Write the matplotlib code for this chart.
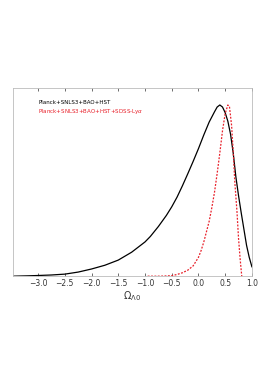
import matplotlib
matplotlib.use("Agg")
import matplotlib.pyplot as plt
import numpy as np

# posterior for Omega_Lambda0
om_black = [-3.47, -3.2, -3.0, -2.75, -2.5, -2.25, -2.0, -1.75, -1.5, -1.25,
            -1.0, -0.9, -0.75, -0.6, -0.5, -0.4, -0.3, -0.2, -0.1, 0.0,
            0.1, 0.2, 0.3, 0.35, 0.4, 0.45, 0.5, 0.55, 0.6, 0.65,
            0.7, 0.75, 0.8, 0.85, 0.9, 0.95, 1.0]
p_black = [0.0, 0.002, 0.004, 0.007, 0.012, 0.024, 0.042, 0.064, 0.094, 0.14,
           0.2, 0.232, 0.29, 0.355, 0.405, 0.462, 0.528, 0.598, 0.67, 0.745,
           0.825, 0.9, 0.96, 0.988, 1.0, 0.988, 0.955, 0.905, 0.83, 0.72,
           0.58, 0.47, 0.37, 0.275, 0.18, 0.11, 0.055]

om_red = [-0.95, -0.7, -0.5, -0.4, -0.3, -0.2, -0.1, 0.0, 0.05, 0.1,
          0.15, 0.2, 0.25, 0.3, 0.35, 0.4, 0.45, 0.5, 0.55, 0.58,
          0.62, 0.65, 0.68, 0.72, 0.75, 0.78, 0.81]
p_red = [0.0, 0.0, 0.003, 0.01, 0.02, 0.035, 0.06, 0.11, 0.15, 0.2,
         0.26, 0.32, 0.4, 0.49, 0.6, 0.72, 0.85, 0.95, 1.0, 0.99,
         0.88, 0.73, 0.55, 0.38, 0.22, 0.1, 0.0]

labels = ["Planck+SNLS3+BAO+HST", r"Planck+SNLS3+BAO+HST+SDSS-Ly$\alpha$"]
xticks = [-3.0, -2.5, -2.0, -1.5, -1.0, -0.5, 0.0, 0.5, 1.0]

fig = plt.figure(figsize=(2.7, 3.82), dpi=100)
ax = fig.add_axes([0.048, 0.277, 0.885, 0.493])

ax.plot(om_black, p_black, color="black", lw=0.9)
ax.plot(om_red, p_red, color="#e8202a", lw=0.9, linestyle=(0, (1.5, 1.2)))

ax.text(0.105, 0.912, labels[0], transform=ax.transAxes, fontsize=4.0, color="black")
ax.text(0.105, 0.864, labels[1], transform=ax.transAxes, fontsize=4.0, color="#e8202a")

ax.set_xlim(-3.47, 1.0)
ax.set_ylim(0, 1.1)
ax.set_xticks(xticks)
ax.set_yticks([])
ax.tick_params(axis="x", direction="in", top=True, length=2, width=0.5,
               labelsize=5.5, colors="#333333", pad=2)
ax.set_xlabel(r"$\Omega_{\Lambda 0}$", fontsize=7, color="#333333", labelpad=1)
for s in ax.spines.values():
    s.set_color("#bbbbbb")
    s.set_linewidth(0.6)

fig.savefig("out.png", dpi=100)
